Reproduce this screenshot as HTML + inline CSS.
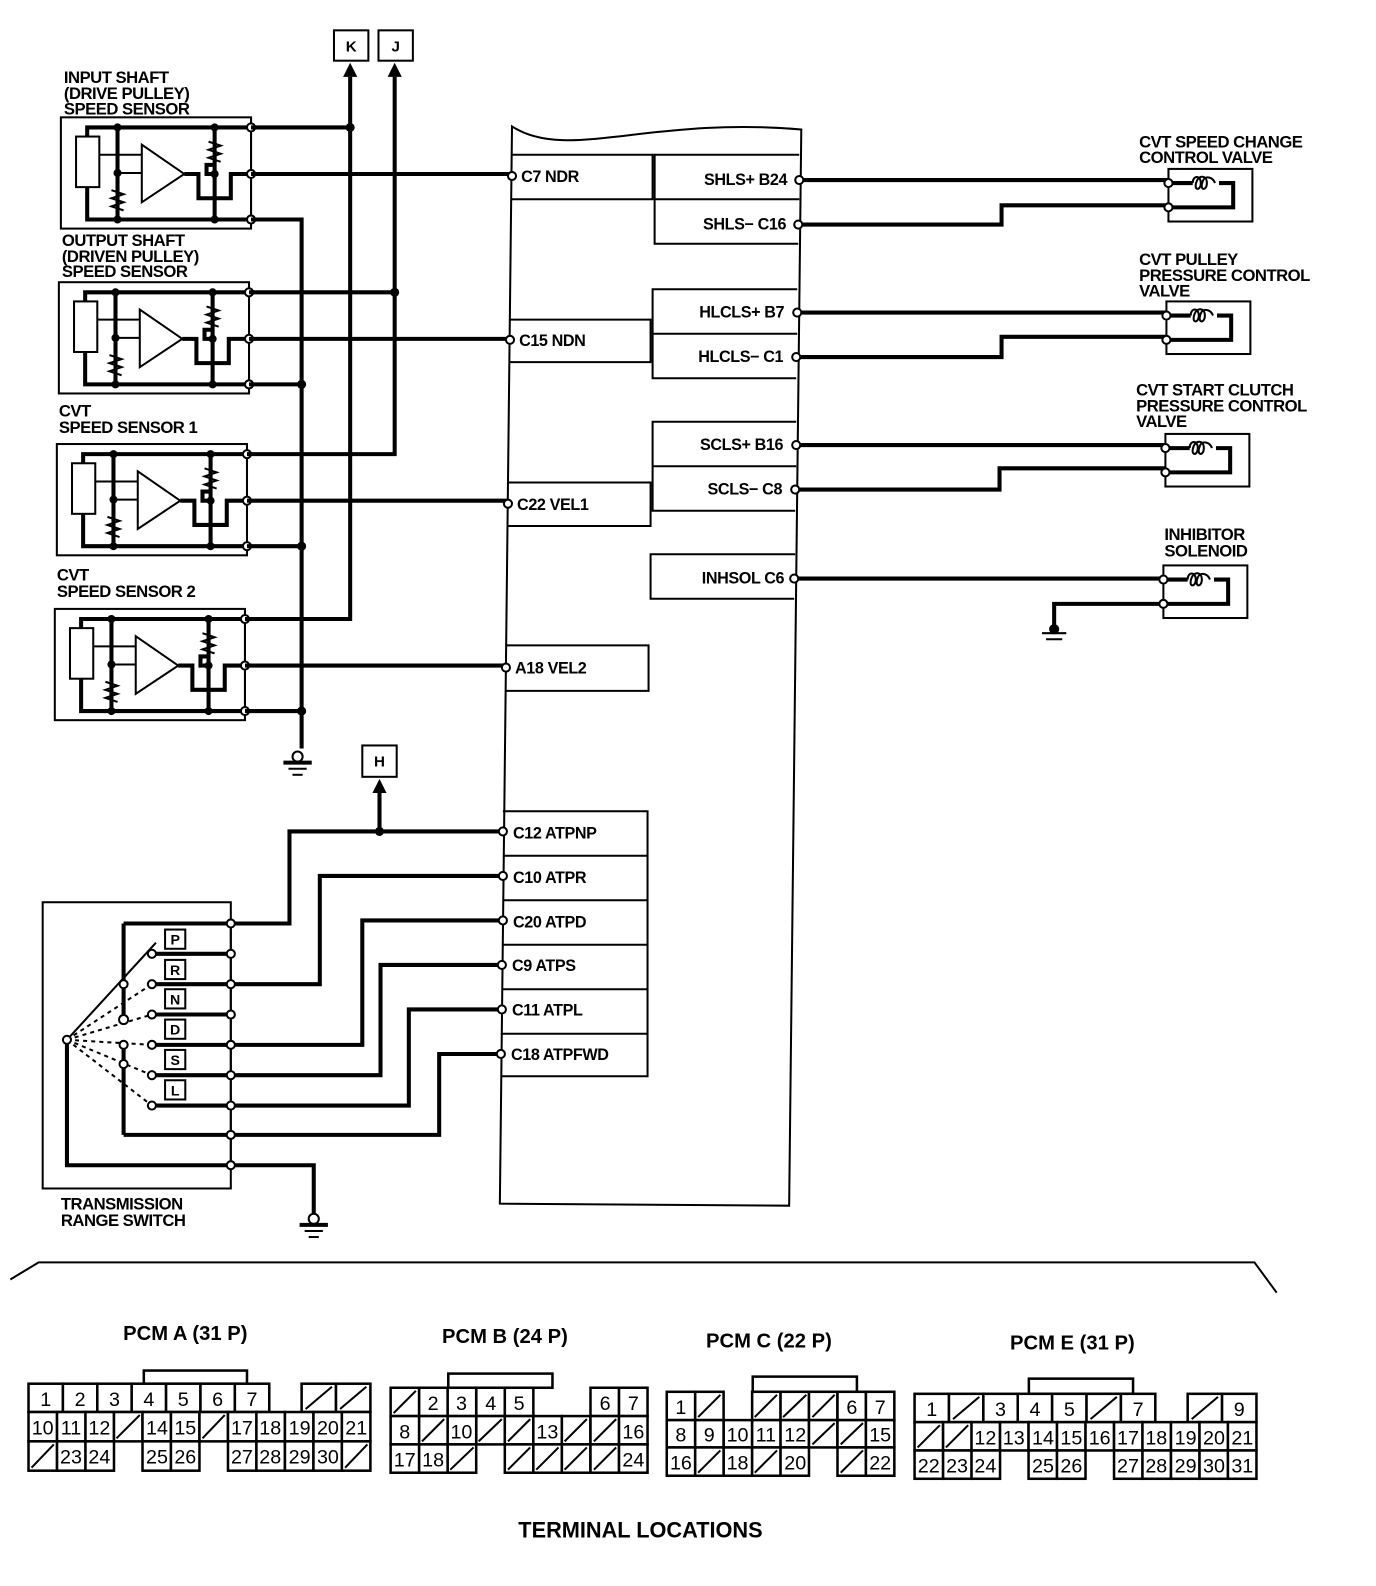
<!DOCTYPE html>
<html><head><meta charset="utf-8"><style>
html,body{margin:0;padding:0;background:#fff;}
svg{display:block}
text{font-family:"Liberation Sans",sans-serif;fill:#000}
.lb{font-weight:bold;font-size:16.5px;letter-spacing:-0.5px}
.pt{font-weight:bold;font-size:16px;letter-spacing:-0.4px}
.n{font-size:19.5px;text-anchor:middle}
.t{font-weight:bold;font-size:20px;text-anchor:middle}
.w{stroke:#000;stroke-width:4;fill:none}
.th{stroke:#000;stroke-width:2;fill:none}
.c{fill:#fff;stroke:#000;stroke-width:2}
.d{fill:#000}
.cell rect{fill:#fff;stroke:#000;stroke-width:2.5}
.cell line{stroke:#000;stroke-width:2}
</style></head><body>
<svg width="1376" height="1586" viewBox="0 0 1360 1568" xmlns="http://www.w3.org/2000/svg">
<defs>
<g id="sens">
  <rect x="60" y="116" width="188" height="110" class="th"/>
  <rect x="75" y="135" width="23" height="50" class="th" stroke-width="2.5"/>
  <path d="M86,135 V126 H248 M86,185 V217 H248" class="w" stroke-width="3.5"/>
  <path d="M116,126 V217" class="w" stroke-width="3.5"/>
  <path d="M98,153 H140 M116,171 H140" class="th" stroke-width="2.5"/>
  <polygon points="140,143 140,200 182,172" class="th" stroke-width="2.5" fill="#fff"/>
  <path d="M110,188 l12,4 l-12,4 l12,4 l-12,4 l12,4" class="th" stroke-width="2.5"/>
  <path d="M206,140 l12,4 l-12,4 l12,4 l-12,4 l12,4" class="th" stroke-width="2.5"/>
  <path d="M212,126 V217 M182,172 H196 V196 H228 V172 H248 M212,163 H204 V172 H212" class="w" stroke-width="3.5"/>
  <line x1="248" y1="116" x2="248" y2="226" class="th"/>
  <circle cx="116" cy="126" r="4" class="d"/><circle cx="116" cy="171" r="4" class="d"/><circle cx="116" cy="217" r="4" class="d"/>
  <circle cx="212" cy="126" r="4" class="d"/><circle cx="212" cy="172" r="4" class="d"/><circle cx="212" cy="217" r="4" class="d"/>
  <circle cx="248" cy="126" r="4" class="c"/><circle cx="248" cy="172" r="4" class="c"/><circle cx="248" cy="217" r="4" class="c"/>
</g>
<g id="gnd">
  <circle cx="0" cy="0" r="5" class="c"/>
  <line x1="-14" y1="6" x2="14" y2="6" stroke="#000" stroke-width="4"/>
  <line x1="-9" y1="12" x2="9" y2="12" stroke="#000" stroke-width="2"/>
  <line x1="-5" y1="18" x2="5" y2="18" stroke="#000" stroke-width="2"/>
</g>
<g id="valve">
  <rect x="0" y="0" width="83" height="52" class="th"/>
  <path d="M0,14 H24 M50,14 H64 V38 H0" class="w" stroke-width="3.5"/>
  <path d="M24,14 c0,-8 8,-8 8,0 c0,8 -8,8 -4,-2 c2,-6 10,-6 10,2 c0,8 -8,8 -4,-2 c2,-6 10,-4 12,2" class="th" stroke-width="2.5"/>
  <circle cx="0" cy="14" r="4" class="c"/><circle cx="0" cy="38" r="4" class="c"/>
</g>
</defs>

<text class="lb" x="63" y="82">INPUT SHAFT</text>
<text class="lb" x="63" y="98">(DRIVE PULLEY)</text>
<text class="lb" x="63" y="113">SPEED SENSOR</text>
<text class="lb" x="61" y="243">OUTPUT SHAFT</text>
<text class="lb" x="61" y="259">(DRIVEN PULLEY)</text>
<text class="lb" x="61" y="274">SPEED SENSOR</text>
<text class="lb" x="58" y="412">CVT</text>
<text class="lb" x="58" y="428">SPEED SENSOR 1</text>
<text class="lb" x="56" y="574">CVT</text>
<text class="lb" x="56" y="590">SPEED SENSOR 2</text>

<use href="#sens"/>
<use href="#sens" transform="translate(-2,163)"/>
<use href="#sens" transform="translate(-4,323)"/>
<use href="#sens" transform="translate(-6,486)"/>

<rect x="330" y="30" width="34" height="30" class="th"/><text class="t" x="347" y="51" style="font-size:15px">K</text>
<rect x="374" y="30" width="34" height="30" class="th"/><text class="t" x="391" y="51" style="font-size:15px">J</text>
<path d="M346,76 V612 H242 M390,76 V449 H244 M248,126 H346 M246,289 H390" class="w"/>
<polygon points="346,62 339,76 353,76"/><polygon points="390,62 383,76 397,76"/>
<circle cx="346" cy="126" r="4.5" class="d"/><circle cx="390" cy="289" r="4.5" class="d"/>
<path d="M248,217 H298 V740 M246,380 H298 M244,540 H298 M242,703 H298" class="w"/>
<circle cx="298" cy="380" r="4.5" class="d"/><circle cx="298" cy="540" r="4.5" class="d"/><circle cx="298" cy="703" r="4.5" class="d"/>
<use href="#gnd" transform="translate(294,748)"/>
<path d="M248,172 H506 M246,335 H504 M244,495 H502 M242,658 H500" class="w"/>

<path d="M506,125 C560,160 640,115 792,128 L780,1192 L494,1190 Z" class="th" stroke-width="2.5"/>
<path d="M506,153 H645 V197 H506 M504,316 H643 V358 H504 M502,477 H643 V520 H502 M500,638 H641 V683 H500" class="th" stroke-width="2.5"/>
<path d="M497,802 H640 V1064 H495 M497,846 H640 M497,890 H640 M496,934 H640 M496,978 H640 M495,1022 H640" class="th" stroke-width="2.5"/>
<path d="M790,153 H647 V241 H789 M647,197 H790 M788,286 H645 V374 H787 M645,330 H788 M787,417 H645 V505 H786 M645,461 H787 M786,548 H643 V592 H785" class="th" stroke-width="2.5"/>
<circle cx="506" cy="174" r="4" class="c"/><circle cx="504" cy="336" r="4" class="c"/><circle cx="502" cy="498" r="4" class="c"/><circle cx="500" cy="660" r="4" class="c"/>
<text class="pt" x="515" y="180">C7 NDR</text>
<text class="pt" x="513" y="342">C15 NDN</text>
<text class="pt" x="511" y="504">C22 VEL1</text>
<text class="pt" x="509" y="666">A18 VEL2</text>
<text class="pt" x="507" y="829">C12 ATPNP</text>
<text class="pt" x="507" y="873">C10 ATPR</text>
<text class="pt" x="507" y="917">C20 ATPD</text>
<text class="pt" x="506" y="960">C9 ATPS</text>
<text class="pt" x="506" y="1004">C11 ATPL</text>
<text class="pt" x="505" y="1048">C18 ATPFWD</text>
<g text-anchor="end">
<text class="pt" x="778" y="183">SHLS+ B24</text>
<text class="pt" x="777" y="227">SHLS− C16</text>
<text class="pt" x="775" y="314">HLCLS+ B7</text>
<text class="pt" x="774" y="358">HLCLS− C1</text>
<text class="pt" x="774" y="445">SCLS+ B16</text>
<text class="pt" x="773" y="489">SCLS− C8</text>
<text class="pt" x="775" y="577">INHSOL C6</text>
</g>
<path d="M790,178 H1155 M789,222 H990 V203 H1155 M788,309 H1153 M787,353 H990 V333 H1153 M787,440 H1152 M786,484 H988 V463 H1152 M785,572 H1150 M1150,597 H1042 V622" class="w"/>
<circle cx="790" cy="178" r="4" class="c"/><circle cx="789" cy="222" r="4" class="c"/><circle cx="788" cy="309" r="4" class="c"/><circle cx="787" cy="353" r="4" class="c"/><circle cx="787" cy="440" r="4" class="c"/><circle cx="786" cy="484" r="4" class="c"/><circle cx="785" cy="572" r="4" class="c"/>
<use href="#valve" transform="translate(1155,167)"/>
<use href="#valve" transform="translate(1153,298)"/>
<use href="#valve" transform="translate(1152,429)"/>
<use href="#valve" transform="translate(1150,559)"/>
<path d="M1030,626 h24 M1034,632 h16" class="th" stroke-width="3"/>
<circle cx="1042" cy="622" r="5" class="d"/>
<text class="lb" x="1126" y="146">CVT SPEED CHANGE</text>
<text class="lb" x="1126" y="161">CONTROL VALVE</text>
<text class="lb" x="1126" y="262">CVT PULLEY</text>
<text class="lb" x="1126" y="278">PRESSURE CONTROL</text>
<text class="lb" x="1126" y="293">VALVE</text>
<text class="lb" x="1123" y="391">CVT START CLUTCH</text>
<text class="lb" x="1123" y="407">PRESSURE CONTROL</text>
<text class="lb" x="1123" y="422">VALVE</text>
<text class="lb" x="1151" y="534">INHIBITOR</text>
<text class="lb" x="1151" y="550">SOLENOID</text>

<rect x="358" y="737" width="34" height="31" class="th"/><text class="t" x="375" y="758" style="font-size:15px">H</text>
<path d="M375,784 V822" class="w"/><polygon points="375,770 368,784 382,784"/>
<circle cx="375" cy="822" r="4.5" class="d"/>

<rect x="42" y="892" width="186" height="283" class="th"/>
<path d="M228,913 V1152" class="th" stroke-width="2.5"/>
<path d="M122,913 H286 V822 H497 M228,973 H316 V866 H497 M228,1033 H358 V910 H497 M228,1063 H376 V954 H496 M228,1093 H404 V998 H496 M122,1122 H434 V1042 H495 M66,1028 V1152 H310 V1200" class="w"/>
<path d="M122,913 V1003 M122,1033 V1122" class="w"/>
<path d="M150,943 H228 M150,1003 H228" class="w"/>
<path d="M150,973 H228 M150,1033 H228 M150,1063 H228 M150,1093 H228" class="w"/>
<line x1="66" y1="1028" x2="154" y2="932" class="th" stroke-width="2.5"/>
<g class="th" stroke-dasharray="4,4" stroke-width="2.5">
<line x1="66" y1="1028" x2="150" y2="973"/><line x1="66" y1="1028" x2="150" y2="1003"/>
<line x1="66" y1="1028" x2="150" y2="1033"/><line x1="66" y1="1028" x2="150" y2="1063"/>
<line x1="66" y1="1028" x2="150" y2="1093"/>
</g>
<g>
<circle cx="66" cy="1028" r="4" class="c"/>
<circle cx="122" cy="973" r="4" class="c"/><circle cx="122" cy="1008" r="4.5" class="c"/>
<circle cx="122" cy="1033" r="4" class="c"/><circle cx="122" cy="1052" r="4" class="c"/>
<circle cx="150" cy="943" r="4" class="c"/><circle cx="150" cy="973" r="4" class="c"/><circle cx="150" cy="1003" r="4" class="c"/>
<circle cx="150" cy="1033" r="4" class="c"/><circle cx="150" cy="1063" r="4" class="c"/><circle cx="150" cy="1093" r="4" class="c"/>
<circle cx="228" cy="913" r="4" class="c"/><circle cx="228" cy="943" r="4" class="c"/><circle cx="228" cy="973" r="4" class="c"/>
<circle cx="228" cy="1003" r="4" class="c"/><circle cx="228" cy="1033" r="4" class="c"/><circle cx="228" cy="1063" r="4" class="c"/>
<circle cx="228" cy="1093" r="4" class="c"/><circle cx="228" cy="1122" r="4" class="c"/><circle cx="228" cy="1152" r="4" class="c"/>
<circle cx="497" cy="822" r="4" class="c"/><circle cx="497" cy="866" r="4" class="c"/><circle cx="497" cy="910" r="4" class="c"/>
<circle cx="496" cy="954" r="4" class="c"/><circle cx="496" cy="998" r="4" class="c"/><circle cx="495" cy="1042" r="4" class="c"/>
</g>
<g class="th" stroke-width="2.5">
<rect x="163" y="919" width="20" height="19" fill="#fff"/><rect x="163" y="949" width="20" height="19" fill="#fff"/>
<rect x="163" y="978" width="20" height="19" fill="#fff"/><rect x="163" y="1008" width="20" height="19" fill="#fff"/>
<rect x="163" y="1038" width="20" height="19" fill="#fff"/><rect x="163" y="1068" width="20" height="19" fill="#fff"/>
</g>
<g class="t" style="font-size:14px">
<text x="173" y="934">P</text><text x="173" y="964">R</text><text x="173" y="993">N</text>
<text x="173" y="1023">D</text><text x="173" y="1053">S</text><text x="173" y="1083">L</text>
</g>
<use href="#gnd" transform="translate(310,1205)"/>
<text class="lb" x="60" y="1196">TRANSMISSION</text>
<text class="lb" x="60" y="1212">RANGE SWITCH</text>

<path d="M10,1265 L38,1248 H1240 L1262,1278" class="th" stroke-width="2.5"/>

<text class="t" x="183" y="1325">PCM A (31 P)</text>
<text class="t" x="499" y="1328">PCM B (24 P)</text>
<text class="t" x="760" y="1332">PCM C (22 P)</text>
<text class="t" x="1060" y="1334">PCM E (31 P)</text>
<text class="t" x="633" y="1520" style="font-size:21.5px">TERMINAL LOCATIONS</text>

<g class="cell">
<rect x="142" y="1355" width="102" height="13"/>
<rect x="28" y="1368" width="34" height="28"/><rect x="62" y="1368" width="34" height="28"/><rect x="96" y="1368" width="34" height="28"/><rect x="130" y="1368" width="34" height="28"/><rect x="164" y="1368" width="34" height="28"/><rect x="198" y="1368" width="34" height="28"/><rect x="232" y="1368" width="34" height="28"/>
<rect x="298" y="1368" width="34" height="28"/><rect x="332" y="1368" width="34" height="28"/>
<line x1="302" y1="1393" x2="328" y2="1371"/><line x1="336" y1="1393" x2="362" y2="1371"/>
<rect x="28" y="1396" width="28.2" height="29"/><rect x="56.2" y="1396" width="28.2" height="29"/><rect x="84.3" y="1396" width="28.2" height="29"/><rect x="112.5" y="1396" width="28.2" height="29"/><rect x="140.7" y="1396" width="28.2" height="29"/><rect x="168.8" y="1396" width="28.2" height="29"/><rect x="197" y="1396" width="28.2" height="29"/><rect x="225.2" y="1396" width="28.2" height="29"/><rect x="253.3" y="1396" width="28.2" height="29"/><rect x="281.5" y="1396" width="28.2" height="29"/><rect x="309.7" y="1396" width="28.2" height="29"/><rect x="337.8" y="1396" width="28.2" height="29"/>
<line x1="115" y1="1422" x2="138" y2="1399"/><line x1="200" y1="1422" x2="222" y2="1399"/>
<rect x="28" y="1425" width="28.2" height="29"/><rect x="56.2" y="1425" width="28.2" height="29"/><rect x="84.3" y="1425" width="28.2" height="29"/>
<rect x="140.7" y="1425" width="28.2" height="29"/><rect x="168.8" y="1425" width="28.2" height="29"/>
<rect x="225.2" y="1425" width="28.2" height="29"/><rect x="253.3" y="1425" width="28.2" height="29"/><rect x="281.5" y="1425" width="28.2" height="29"/><rect x="309.7" y="1425" width="28.2" height="29"/><rect x="337.8" y="1425" width="28.2" height="29"/>
<line x1="31" y1="1451" x2="53" y2="1428"/><line x1="341" y1="1451" x2="363" y2="1428"/>
</g>
<g class="n">
<text x="45" y="1390">1</text><text x="79" y="1390">2</text><text x="113" y="1390">3</text><text x="147" y="1390">4</text><text x="181" y="1390">5</text><text x="215" y="1390">6</text><text x="249" y="1390">7</text>
<text x="42" y="1418">10</text><text x="70" y="1418">11</text><text x="98" y="1418">12</text><text x="155" y="1418">14</text><text x="183" y="1418">15</text><text x="239" y="1418">17</text><text x="267" y="1418">18</text><text x="296" y="1418">19</text><text x="324" y="1418">20</text><text x="352" y="1418">21</text>
<text x="70" y="1447">23</text><text x="98" y="1447">24</text><text x="155" y="1447">25</text><text x="183" y="1447">26</text><text x="239" y="1447">27</text><text x="267" y="1447">28</text><text x="296" y="1447">29</text><text x="324" y="1447">30</text>
</g>

<g class="cell">
<rect x="443" y="1358" width="103" height="14"/>
<rect x="386" y="1372" width="28.2" height="28"/><rect x="414.2" y="1372" width="28.2" height="28"/><rect x="442.4" y="1372" width="28.2" height="28"/><rect x="470.7" y="1372" width="28.2" height="28"/><rect x="498.9" y="1372" width="28.2" height="28"/>
<rect x="583.6" y="1372" width="28.2" height="28"/><rect x="611.8" y="1372" width="28.2" height="28"/>
<line x1="389" y1="1397" x2="411" y2="1375"/>
<rect x="386" y="1400" width="28.2" height="28"/><rect x="414.2" y="1400" width="28.2" height="28"/><rect x="442.4" y="1400" width="28.2" height="28"/><rect x="470.7" y="1400" width="28.2" height="28"/><rect x="498.9" y="1400" width="28.2" height="28"/><rect x="527.1" y="1400" width="28.2" height="28"/><rect x="555.3" y="1400" width="28.2" height="28"/><rect x="583.6" y="1400" width="28.2" height="28"/><rect x="611.8" y="1400" width="28.2" height="28"/>
<line x1="417" y1="1425" x2="439" y2="1403"/><line x1="473" y1="1425" x2="496" y2="1403"/><line x1="502" y1="1425" x2="524" y2="1403"/><line x1="558" y1="1425" x2="580" y2="1403"/><line x1="587" y1="1425" x2="609" y2="1403"/>
<rect x="386" y="1428" width="28.2" height="28"/><rect x="414.2" y="1428" width="28.2" height="28"/><rect x="442.4" y="1428" width="28.2" height="28"/>
<rect x="498.9" y="1428" width="28.2" height="28"/><rect x="527.1" y="1428" width="28.2" height="28"/><rect x="555.3" y="1428" width="28.2" height="28"/><rect x="583.6" y="1428" width="28.2" height="28"/><rect x="611.8" y="1428" width="28.2" height="28"/>
<line x1="445" y1="1453" x2="468" y2="1431"/><line x1="502" y1="1453" x2="524" y2="1431"/><line x1="530" y1="1453" x2="552" y2="1431"/><line x1="558" y1="1453" x2="580" y2="1431"/><line x1="587" y1="1453" x2="609" y2="1431"/>
</g>
<g class="n">
<text x="428" y="1394">2</text><text x="456" y="1394">3</text><text x="485" y="1394">4</text><text x="513" y="1394">5</text><text x="598" y="1394">6</text><text x="626" y="1394">7</text>
<text x="400" y="1422">8</text><text x="456" y="1422">10</text><text x="541" y="1422">13</text><text x="626" y="1422">16</text>
<text x="400" y="1450">17</text><text x="428" y="1450">18</text><text x="626" y="1450">24</text>
</g>

<g class="cell">
<rect x="744" y="1361" width="103" height="15"/>
<rect x="659" y="1376" width="28.1" height="28"/><rect x="687.1" y="1376" width="28.1" height="28"/>
<rect x="743.4" y="1376" width="28.1" height="28"/><rect x="771.5" y="1376" width="28.1" height="28"/><rect x="799.6" y="1376" width="28.1" height="28"/><rect x="827.8" y="1376" width="28.1" height="28"/><rect x="855.9" y="1376" width="28.1" height="28"/>
<line x1="690" y1="1401" x2="712" y2="1379"/><line x1="746" y1="1401" x2="768" y2="1379"/><line x1="774" y1="1401" x2="797" y2="1379"/><line x1="803" y1="1401" x2="825" y2="1379"/>
<rect x="659" y="1404" width="28.1" height="27"/><rect x="687.1" y="1404" width="28.1" height="27"/><rect x="715.3" y="1404" width="28.1" height="27"/><rect x="743.4" y="1404" width="28.1" height="27"/><rect x="771.5" y="1404" width="28.1" height="27"/><rect x="799.6" y="1404" width="28.1" height="27"/><rect x="827.8" y="1404" width="28.1" height="27"/><rect x="855.9" y="1404" width="28.1" height="27"/>
<line x1="803" y1="1428" x2="825" y2="1407"/><line x1="831" y1="1428" x2="853" y2="1407"/>
<rect x="659" y="1431" width="28.1" height="28"/><rect x="687.1" y="1431" width="28.1" height="28"/><rect x="715.3" y="1431" width="28.1" height="28"/><rect x="743.4" y="1431" width="28.1" height="28"/><rect x="771.5" y="1431" width="28.1" height="28"/>
<rect x="827.8" y="1431" width="28.1" height="28"/><rect x="855.9" y="1431" width="28.1" height="28"/>
<line x1="690" y1="1456" x2="712" y2="1434"/><line x1="746" y1="1456" x2="768" y2="1434"/><line x1="831" y1="1456" x2="853" y2="1434"/>
</g>
<g class="n">
<text x="673" y="1398">1</text><text x="842" y="1398">6</text><text x="870" y="1398">7</text>
<text x="673" y="1425">8</text><text x="701" y="1425">9</text><text x="729" y="1425">10</text><text x="757" y="1425">11</text><text x="786" y="1425">12</text><text x="870" y="1425">15</text>
<text x="673" y="1453">16</text><text x="729" y="1453">18</text><text x="786" y="1453">20</text><text x="870" y="1453">22</text>
</g>

<g class="cell">
<rect x="1017" y="1363" width="103" height="15"/>
<rect x="904" y="1378" width="34" height="28"/><rect x="938" y="1378" width="34" height="28"/><rect x="972" y="1378" width="34" height="28"/><rect x="1006" y="1378" width="34" height="28"/><rect x="1040" y="1378" width="34" height="28"/><rect x="1074" y="1378" width="34" height="28"/><rect x="1108" y="1378" width="34" height="28"/>
<rect x="1174" y="1378" width="34" height="28"/><rect x="1208" y="1378" width="34" height="28"/>
<line x1="942" y1="1403" x2="968" y2="1381"/><line x1="1078" y1="1403" x2="1104" y2="1381"/><line x1="1178" y1="1403" x2="1204" y2="1381"/>
<rect x="904" y="1406" width="28.2" height="28"/><rect x="932.2" y="1406" width="28.2" height="28"/><rect x="960.3" y="1406" width="28.2" height="28"/><rect x="988.5" y="1406" width="28.2" height="28"/><rect x="1016.7" y="1406" width="28.2" height="28"/><rect x="1044.8" y="1406" width="28.2" height="28"/><rect x="1073" y="1406" width="28.2" height="28"/><rect x="1101.2" y="1406" width="28.2" height="28"/><rect x="1129.3" y="1406" width="28.2" height="28"/><rect x="1157.5" y="1406" width="28.2" height="28"/><rect x="1185.7" y="1406" width="28.2" height="28"/><rect x="1213.8" y="1406" width="28.2" height="28"/>
<line x1="907" y1="1431" x2="929" y2="1409"/><line x1="935" y1="1431" x2="957" y2="1409"/>
<rect x="904" y="1434" width="28.2" height="28"/><rect x="932.2" y="1434" width="28.2" height="28"/><rect x="960.3" y="1434" width="28.2" height="28"/>
<rect x="1016.7" y="1434" width="28.2" height="28"/><rect x="1044.8" y="1434" width="28.2" height="28"/>
<rect x="1101.2" y="1434" width="28.2" height="28"/><rect x="1129.3" y="1434" width="28.2" height="28"/><rect x="1157.5" y="1434" width="28.2" height="28"/><rect x="1185.7" y="1434" width="28.2" height="28"/><rect x="1213.8" y="1434" width="28.2" height="28"/>
</g>
<g class="n">
<text x="921" y="1400">1</text><text x="989" y="1400">3</text><text x="1023" y="1400">4</text><text x="1057" y="1400">5</text><text x="1125" y="1400">7</text><text x="1225" y="1400">9</text>
<text x="974" y="1428">12</text><text x="1002" y="1428">13</text><text x="1031" y="1428">14</text><text x="1059" y="1428">15</text><text x="1087" y="1428">16</text><text x="1115" y="1428">17</text><text x="1143" y="1428">18</text><text x="1172" y="1428">19</text><text x="1200" y="1428">20</text><text x="1228" y="1428">21</text>
<text x="918" y="1456">22</text><text x="946" y="1456">23</text><text x="974" y="1456">24</text><text x="1031" y="1456">25</text><text x="1059" y="1456">26</text><text x="1115" y="1456">27</text><text x="1143" y="1456">28</text><text x="1172" y="1456">29</text><text x="1200" y="1456">30</text><text x="1228" y="1456">31</text>
</g>
</svg>
</body></html>
